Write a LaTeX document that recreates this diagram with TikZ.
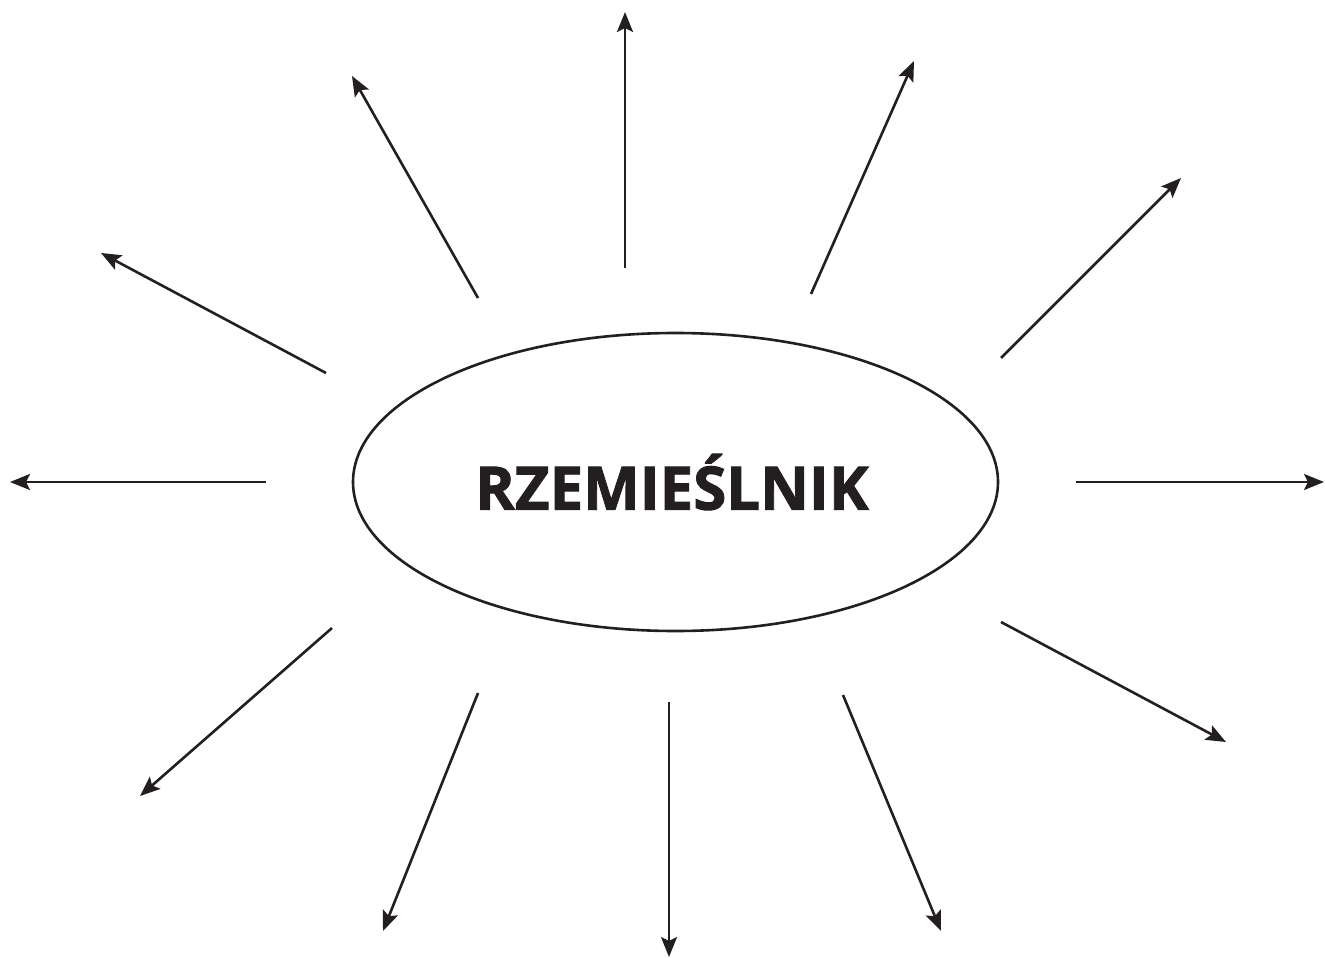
\documentclass[tikz,border=0pt]{standalone}
\usepackage{fontspec}
\setmainfont{Open Sans}
\newfontfamily\hubfont{Open Sans Bold}[FakeBold=1.6]
\usetikzlibrary{arrows.meta,shapes.geometric}
\definecolor{ink}{RGB}{35,31,32}
\tikzset{
  ray/.style={line width=2.6pt, draw=ink, -{Stealth[length=20pt,width=16pt,inset=4pt]}},
  hub/.style={ellipse, draw=ink, line width=2.6pt, minimum width=645pt, minimum height=298pt, inner sep=0pt},
}
\begin{document}
\begin{tikzpicture}[x=1pt,y=-1pt]
\useasboundingbox (0,0) rectangle (1325,958);
\node[hub] (c) at (675.5,482) {};
\node[text=ink] (t) at (672,482) {\hubfont\fontsize{60}{60}\selectfont RZEMIEŚLNIK};
\coordinate (s1) at (625,268);  \coordinate (e1) at (625,12);
\coordinate (s2) at (478,298);  \coordinate (e2) at (352,76);
\coordinate (s3) at (326,373);  \coordinate (e3) at (101,253);
\coordinate (s4) at (266,482);  \coordinate (e4) at (10,482);
\coordinate (s5) at (332,628);  \coordinate (e5) at (140,796);
\coordinate (s6) at (478,693);  \coordinate (e6) at (383,931);
\coordinate (s7) at (669,702);  \coordinate (e7) at (669,957);
\coordinate (s8) at (843,695);  \coordinate (e8) at (941,931);
\coordinate (s9) at (1001,622); \coordinate (e9) at (1226,742);
\coordinate (s10) at (1076,482); \coordinate (e10) at (1324,482);
\coordinate (s11) at (1001,358); \coordinate (e11) at (1181,178);
\coordinate (s12) at (811,294); \coordinate (e12) at (914,61);
\foreach \i in {1,...,12} { \draw[ray] (s\i) -- (e\i); }
\end{tikzpicture}
\end{document}
